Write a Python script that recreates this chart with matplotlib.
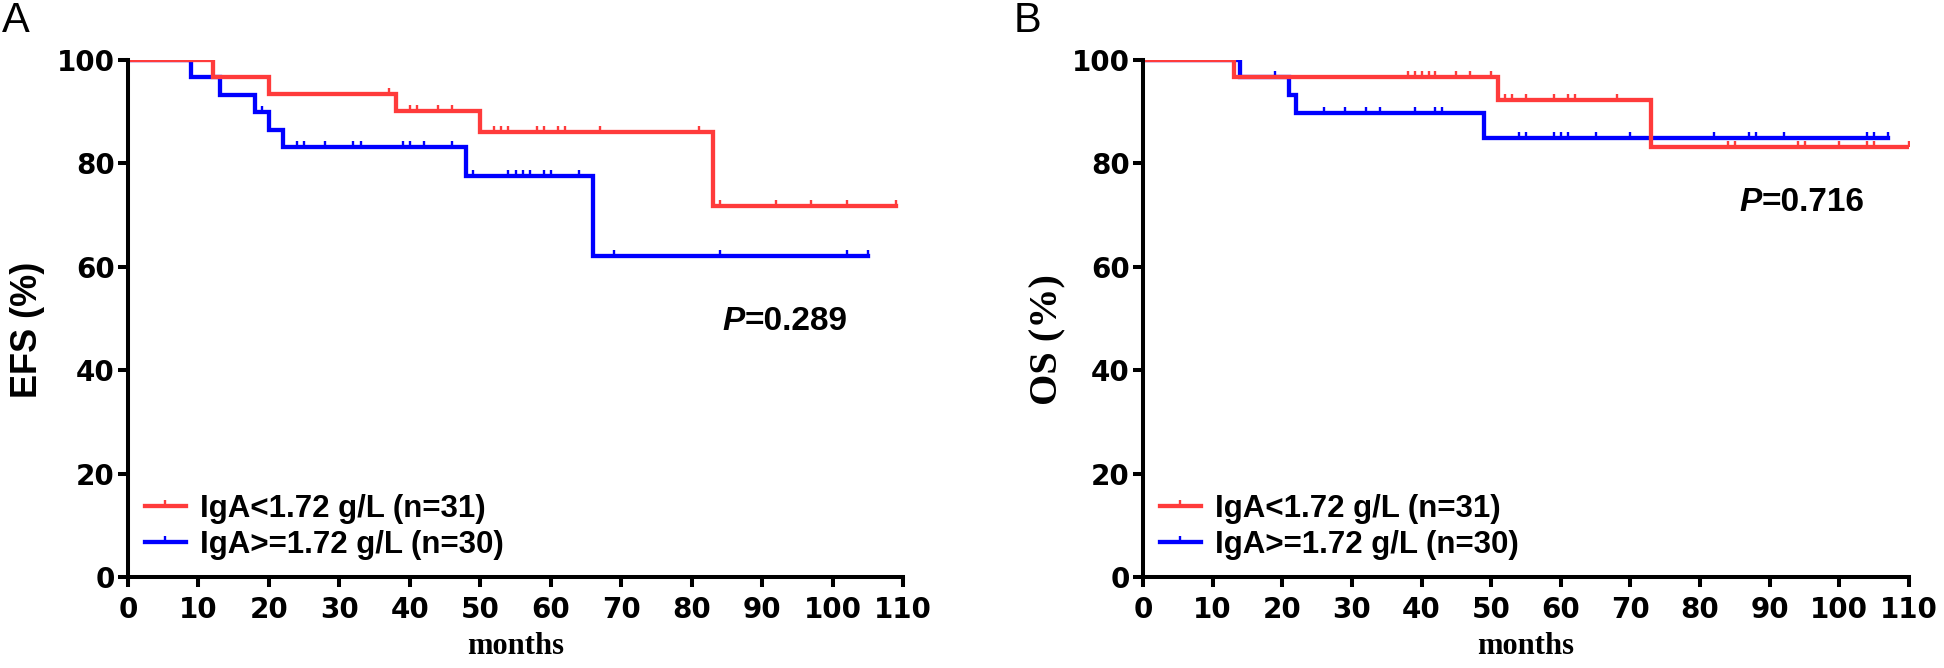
import numpy as np
import matplotlib
matplotlib.use("Agg")
import matplotlib.pyplot as plt
from matplotlib.path import Path
from matplotlib.lines import Line2D

# ---------------- data ----------------
# Panel A (EFS)
A_low_t = [0, 12, 20, 38, 50, 83, 109]
A_low_s = [100, 96.8, 93.5, 90.2, 86.0, 71.7, 71.7]
A_low_cens = [37, 40, 41, 44, 46, 52, 53, 54, 58, 59, 61, 62, 67, 81, 84, 92, 97, 102, 109]

A_high_t = [0, 9, 13, 18, 20, 22, 48, 66, 105]
A_high_s = [100, 96.7, 93.3, 90.0, 86.5, 83.2, 77.6, 62.1, 62.1]
A_high_cens = [19, 24, 25, 28, 32, 33, 39, 40, 42, 46, 49, 54, 55, 56, 57, 59, 60, 64, 69, 84, 102, 105]

# Panel B (OS)
B_low_t = [0, 13, 51, 73, 110]
B_low_s = [100, 96.8, 92.3, 83.2, 83.2]
B_low_cens = [38, 39, 40, 41, 42, 45, 47, 50, 52, 53, 55, 59, 61, 62, 68, 84, 85, 94, 95, 100, 104, 105, 110]

B_high_t = [0, 14, 21, 22, 49, 107]
B_high_s = [100, 96.7, 93.3, 89.8, 84.9, 84.9]
B_high_cens = [19, 26, 29, 32, 34, 39, 42, 43, 54, 55, 59, 60, 61, 65, 70, 82, 87, 88, 92, 104, 105, 107]

labels = ["IgA<1.72 g/L (n=31)", "IgA>=1.72 g/L (n=30)"]
p_texts = ["0.289", "0.716"]
ylabels = ["EFS (%)", "OS (%)"]
panel_letters = ["A", "B"]
xticks = list(range(0, 111, 10))
yticks = list(range(0, 101, 20))

RED = "#FF3B3B"
BLUE = "#0000FF"

# ---------------- style ----------------
W, H = 1944, 668
fig = plt.figure(figsize=(W / 100, H / 100), dpi=100)

tick_marker = Path([[0, 0], [0, 1]], [Path.MOVETO, Path.LINETO])
LW = 3.1
SPW = 2.9
MS = 9.0
MEW = 1.7


def step_level(times, levels, c):
    idx = np.searchsorted(np.asarray(times), c, side="right") - 1
    return np.asarray(levels)[idx]


def draw_curve(ax, times, levels, cens, color):
    ax.step(times, levels, where="post", color=color, lw=LW, solid_joinstyle="miter")
    cy = [step_level(times, levels, c) for c in cens]
    ax.plot(cens, cy, linestyle="none", marker=tick_marker, markersize=MS,
            markeredgewidth=MEW, color=color)


def setup_axes(ax):
    ax.set_xlim(0, 110)
    ax.set_ylim(0, 100)
    for s in ["top", "right"]:
        ax.spines[s].set_visible(False)
    for s in ["left", "bottom"]:
        ax.spines[s].set_linewidth(SPW)
        ax.spines[s].set_capstyle("projecting")
    ax.set_xticks(xticks)
    ax.set_yticks(yticks)
    ax.tick_params(axis="both", direction="out", length=7.5, width=SPW, labelsize=20)
    ax.tick_params(axis="x", pad=6)
    ax.tick_params(axis="y", pad=2)
    for lab in ax.get_xticklabels() + ax.get_yticklabels():
        lab.set_fontfamily("DejaVu Sans")
        lab.set_fontweight("bold")


panels = [
    dict(left=128, right=903,
         low=(A_low_t, A_low_s, A_low_cens), high=(A_high_t, A_high_s, A_high_cens),
         p_xy=(84.3, 47.8), ylab_font=dict(family="Liberation Sans", weight="bold", size=26),
         ylab_coords=(-0.130, 0.478), letter_x=2),
    dict(left=1143, right=1909,
         low=(B_low_t, B_low_s, B_low_cens), high=(B_high_t, B_high_s, B_high_cens),
         p_xy=(85.7, 70.7), ylab_font=dict(family="Liberation Serif", weight="bold", size=29),
         ylab_coords=(-0.124, 0.46), letter_x=1014),
]

top, bottom = 60, 577
for i, p in enumerate(panels):
    ax = fig.add_axes([p["left"] / W, 1 - bottom / H, (p["right"] - p["left"]) / W, (bottom - top) / H])
    setup_axes(ax)
    draw_curve(ax, *p["high"], BLUE)
    draw_curve(ax, *p["low"], RED)

    # legend
    handles = [Line2D([], [], color=RED, lw=LW, marker=tick_marker, markersize=MS, markeredgewidth=MEW),
               Line2D([], [], color=BLUE, lw=LW, marker=tick_marker, markersize=MS, markeredgewidth=MEW)]
    x0 = 17 / (p["right"] - p["left"])
    ax.legend(handles, labels, loc="center left", bbox_to_anchor=(x0, (bottom - 527) / (bottom - top)),
              frameon=False, borderpad=0, borderaxespad=0, handlelength=1.3, handletextpad=0.45,
              labelspacing=0.2, numpoints=1,
              prop=dict(family="Liberation Sans", weight="bold", size=22.5))

    # P value
    t1 = ax.text(p["p_xy"][0], p["p_xy"][1], "P", fontsize=24, fontweight="bold", fontstyle="italic",
                 family="Liberation Sans", va="baseline", ha="left")
    ax.annotate("=" + p_texts[i], xy=(1, 0), xycoords=t1, va="bottom", ha="left", fontsize=24,
                fontweight="bold", family="Liberation Sans")

    # axis labels
    ax.set_xlabel("months", family="Liberation Serif", weight="bold", size=22)
    ax.xaxis.set_label_coords(0.5, (bottom - 647) / (bottom - top))
    ax.xaxis.label.set_va("center")
    ax.set_ylabel(ylabels[i], **p["ylab_font"])
    ax.yaxis.set_label_coords(*p["ylab_coords"])
    ax.yaxis.label.set_va("center")

    fig.text(p["letter_x"] / W, 1 - 21 / H, panel_letters[i], family="Liberation Sans", size=30,
             ha="left", va="center")

fig.savefig("out.png", dpi=100)
